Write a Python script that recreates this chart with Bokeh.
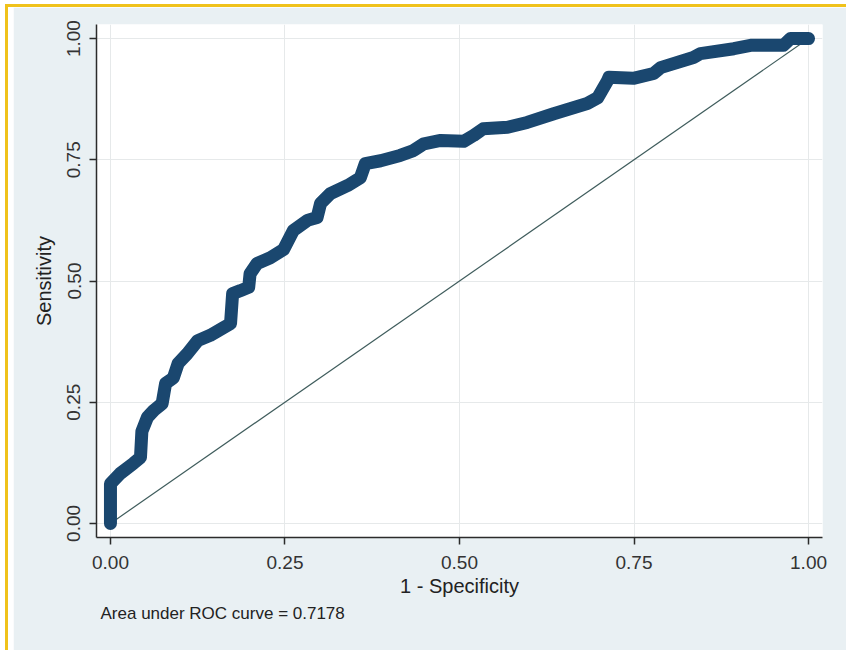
from bokeh.plotting import figure
from bokeh.embed import file_html
from bokeh.resources import INLINE
from bokeh.models import Range1d, FixedTicker, Title
from bokeh.layouts import column

# ROC curve points (1 - specificity, sensitivity)
fpr = [0.000, 0.000, 0.014, 0.033, 0.043, 0.045, 0.053, 0.062, 0.074, 0.079,
       0.090, 0.097, 0.110, 0.125, 0.143, 0.162, 0.172, 0.175, 0.186, 0.198,
       0.200, 0.210, 0.229, 0.248, 0.262, 0.282, 0.296, 0.301, 0.315, 0.340,
       0.358, 0.365, 0.387, 0.415, 0.434, 0.449, 0.473, 0.506, 0.520, 0.534,
       0.569, 0.597, 0.635, 0.683, 0.698, 0.712, 0.714, 0.749, 0.778, 0.788,
       0.835, 0.845, 0.893, 0.917, 0.964, 0.974, 1.000]
tpr = [0.000, 0.082, 0.103, 0.124, 0.136, 0.190, 0.219, 0.233, 0.247, 0.289,
       0.300, 0.330, 0.350, 0.377, 0.388, 0.404, 0.412, 0.474, 0.480, 0.487,
       0.515, 0.536, 0.548, 0.565, 0.604, 0.625, 0.631, 0.660, 0.680, 0.697,
       0.713, 0.742, 0.748, 0.759, 0.769, 0.783, 0.790, 0.788, 0.800, 0.814,
       0.817, 0.827, 0.845, 0.866, 0.878, 0.913, 0.920, 0.918, 0.928, 0.940,
       0.961, 0.969, 0.979, 0.986, 0.986, 1.000, 1.000]
ref_x = [0.0, 1.0]
ref_y = [0.0, 1.0]
ticks = [0.0, 0.25, 0.5, 0.75, 1.0]
tick_labels = {0.0: "0.00", 0.25: "0.25", 0.5: "0.50", 0.75: "0.75", 1.0: "1.00"}
auc_text = "Area under ROC curve = 0.7178"

NAVY = "#1A476F"
BG = "#E9F0F3"
FONT = "Liberation Sans"

p = figure(width=833, height=643, output_backend="svg", toolbar_location=None,
           x_range=Range1d(-0.02, 1.02), y_range=Range1d(-0.029, 1.029),
           min_border_left=83, min_border_right=24, min_border_top=17,
           min_border_bottom=113)
p.border_fill_color = BG
p.background_fill_color = "white"
p.outline_line_color = None

p.line(ref_x, ref_y, line_color="#3F5C5C", line_width=1.2)
p.line(fpr, tpr, line_color=NAVY, line_width=13, line_join="round", line_cap="round")

for ax in (p.xaxis[0], p.yaxis[0]):
    ax.ticker = FixedTicker(ticks=ticks)
    ax.major_label_overrides = tick_labels
    ax.major_tick_out = 7
    ax.major_tick_in = 0
    ax.minor_tick_line_color = None
    ax.axis_line_color = "#2b2b2b"
    ax.axis_line_width = 1.5
    ax.major_tick_line_color = "#2b2b2b"
    ax.major_tick_line_width = 1.5
    ax.major_label_text_font = FONT
    ax.major_label_text_font_size = "19px"
    ax.major_label_text_color = "#333333"
    ax.axis_label_text_font = FONT
    ax.axis_label_text_font_size = "20px"
    ax.axis_label_text_font_style = "normal"
    ax.axis_label_text_color = "#222222"

p.xaxis.axis_label = "1 - Specificity"
p.yaxis.axis_label = "Sensitivity"
p.xaxis.major_label_standoff = 11
p.xaxis.axis_label_standoff = 3
p.yaxis.major_label_standoff = 9
p.yaxis.axis_label_standoff = 10
p.yaxis.major_label_orientation = "vertical"

p.grid.ticker = FixedTicker(ticks=ticks)
p.grid.grid_line_color = "#E6E9EA"
p.grid.grid_line_width = 1

note = Title(text=auc_text, align="left", offset=4, text_font=FONT,
             text_font_size="17px", text_font_style="normal",
             text_color="#222222", standoff=4)
p.add_layout(note, "below")

layout = column(p, styles={"margin-left": "5px", "margin-top": "4px",
                           "border-left": "3px solid #F0C21B",
                           "border-top": "3px solid #F0C21B",
                           "padding-left": "5px", "background-color": "white"})

open("out.html", "w").write(file_html(layout, INLINE))
